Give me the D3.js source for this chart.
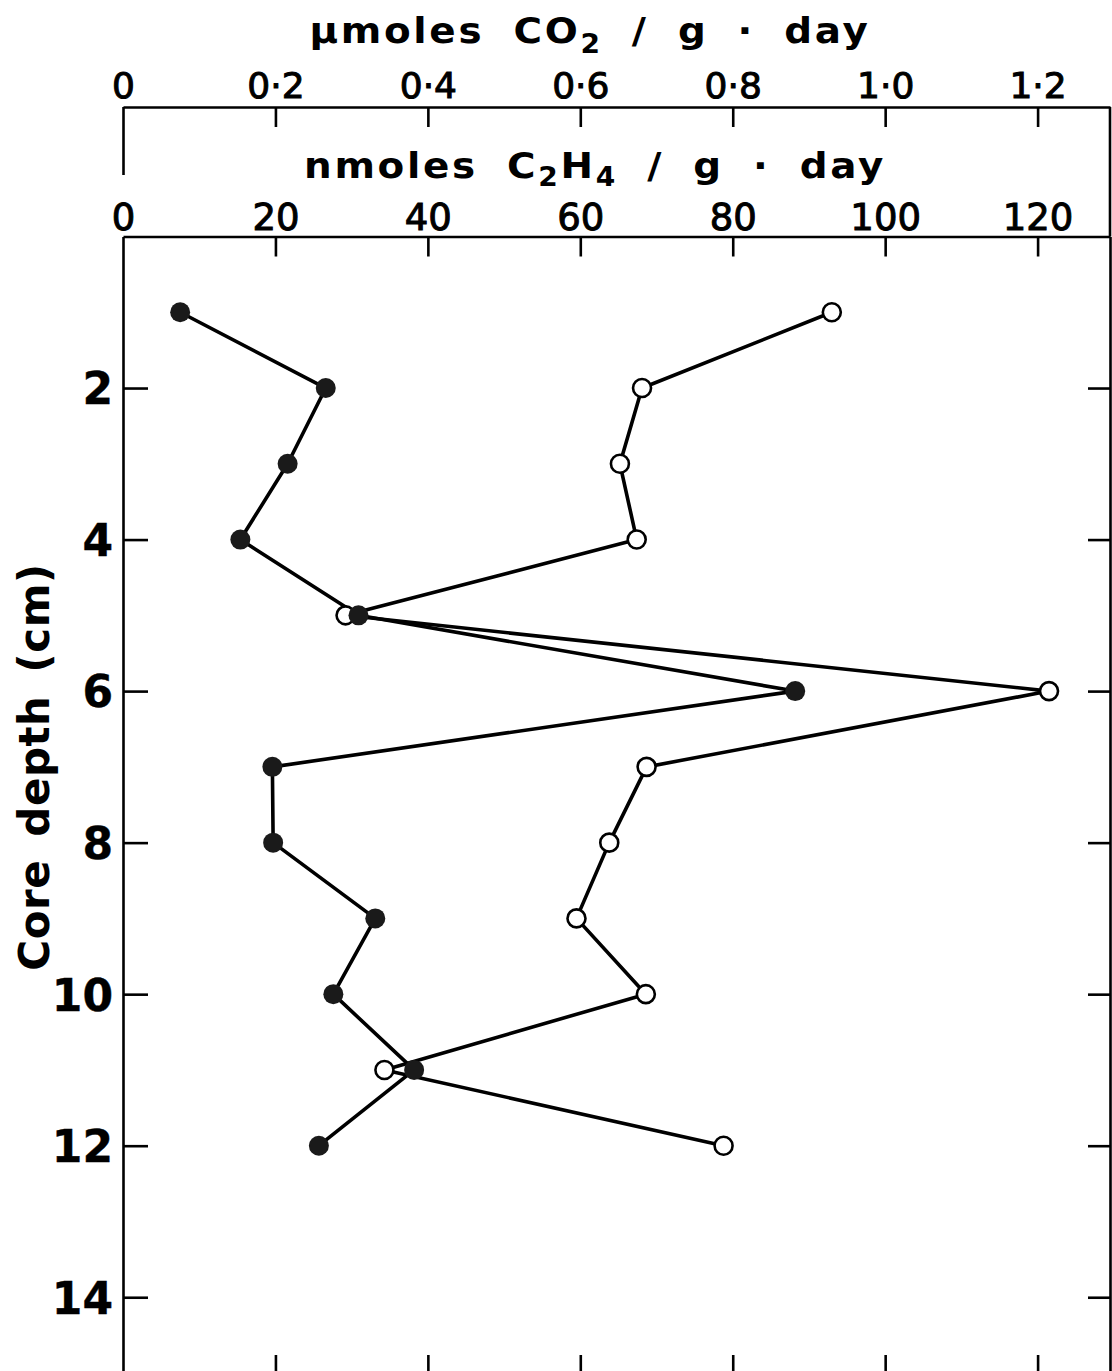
<!DOCTYPE html>
<html>
<head>
<meta charset="utf-8">
<script src="https://cdn.jsdelivr.net/npm/d3@7"></script>
<style>
  html, body { margin: 0; padding: 0; background: #fff; }
  svg { display: block; }
  text { font-family: "DejaVu Sans", sans-serif; fill: #000; }
</style>
</head>
<body>
<svg id="chart" width="1112" height="1371"></svg>
<script>
// Sample depth in the core (cm)
const depth = [1, 2, 3, 4, 5, 6, 7, 8, 9, 10, 11, 12];
// CO2 production, µmoles / g · day  (open circles)
const co2 = [0.930, 0.681, 0.652, 0.674, 0.292, 1.215, 0.687, 0.638, 0.595, 0.686, 0.343, 0.788];
// Ethylene production, nmoles C2H4 / g · day  (filled circles)
const c2h4 = [7.5, 26.6, 21.6, 15.4, 30.9, 88.2, 19.6, 19.7, 33.1, 27.6, 38.2, 25.7];

const co2Ticks = [0, 0.2, 0.4, 0.6, 0.8, 1.0, 1.2];
const c2h4Ticks = [0, 20, 40, 60, 80, 100, 120];
const depthTicks = [2, 4, 6, 8, 10, 12, 14];

const svg = d3.select("#chart");
svg.append("rect").attr("width", 1112).attr("height", 1371).attr("fill", "#fff");

const left = 123, right = 1110;
const co2AxisY = 107;

const xCO2 = d3.scaleLinear().domain([0, 1.295]).range([left, right]);
const xC2H4 = d3.scaleLinear().domain([0, 129.5]).range([left, right]);
const y = d3.scaleLinear().domain([0, 15]).range([236.5, 1373]);

const ink = "#000";
const fmtDot = d => d === 0 ? "0" : d3.format(".1f")(d).replace(".", "\u00B7");

function styleAxis(g, fontSize, weight) {
  g.selectAll("path.domain").attr("stroke", ink).attr("stroke-width", 2.6);
  g.selectAll(".tick line").attr("stroke", ink).attr("stroke-width", 2.6);
  g.selectAll(".tick text")
    .attr("font-size", fontSize)
    .attr("font-weight", weight)
    .attr("font-family", "DejaVu Sans, sans-serif")
    .attr("fill", ink)
    .attr("stroke", ink)
    .attr("stroke-width", 1.0);
}

// Upper scale: CO2
const gTop = svg.append("g")
  .attr("transform", `translate(0,${co2AxisY})`)
  .call(d3.axisTop(xCO2).tickValues(co2Ticks).tickFormat(fmtDot)
    .tickSizeInner(-20).tickSizeOuter(0).tickPadding(9));
styleAxis(gTop, 36, "normal");
gTop.selectAll(".tick").filter(d => d === 0).select("line").attr("y2", 68);

// Second scale: C2H4, sitting on the top of the plot frame
const gMid = svg.append("g")
  .attr("transform", `translate(0,${y(0)})`)
  .call(d3.axisTop(xC2H4).tickValues(c2h4Ticks)
    .tickSizeInner(-20).tickSizeOuter(0).tickPadding(7));
styleAxis(gMid, 37, "normal");
gMid.selectAll(".tick").filter(d => d === 0).select("line").remove();

// Depth axis on the left
const gLeft = svg.append("g")
  .attr("transform", `translate(${left},0)`)
  .call(d3.axisLeft(y).tickValues(depthTicks)
    .tickSizeInner(-25).tickSizeOuter(0).tickPadding(10));
styleAxis(gLeft, 44, "bold");
gLeft.selectAll(".tick text").attr("stroke-width", 0.4).attr("dy", "0.36em");

// Right frame with inward ticks
const gRight = svg.append("g")
  .attr("transform", `translate(${right},0)`)
  .call(d3.axisRight(y).tickValues(depthTicks).tickFormat("")
    .tickSizeInner(-22).tickSizeOuter(0));
styleAxis(gRight, 10, "normal");
svg.append("line")
  .attr("x1", right).attr("x2", right)
  .attr("y1", co2AxisY).attr("y2", y(0))
  .attr("stroke", ink).attr("stroke-width", 2.6);

// Bottom frame with upward ticks
const gBottom = svg.append("g")
  .attr("transform", `translate(0,${y(15)})`)
  .call(d3.axisBottom(xC2H4).tickValues(c2h4Ticks.filter(d => d > 0)).tickFormat("")
    .tickSizeInner(-18).tickSizeOuter(0));
styleAxis(gBottom, 10, "normal");

// Axis titles
function scaleTitle(cx, baseline, sx, parts) {
  const t = svg.append("g")
    .attr("transform", `translate(${cx},${baseline}) scale(${sx},1)`)
    .append("text")
    .attr("text-anchor", "middle")
    .attr("font-size", 36)
    .attr("font-weight", "bold")
    .attr("letter-spacing", 2.5)
    .attr("word-spacing", 12);
  parts.forEach(p => {
    const s = t.append("tspan").text(p.t);
    if (p.sub) s.attr("font-size", 26).attr("dy", p.dy);
    if (p.back) s.attr("dy", p.back);
  });
  return t;
}

scaleTitle(590, 43, 1.08, [
  { t: "\u00B5moles CO" },
  { t: "2", sub: true, dy: 10 },
  { t: " / g \u00B7 day", back: -10 }
]);

scaleTitle(595, 178, 1.08, [
  { t: "nmoles C" },
  { t: "2", sub: true, dy: 8 },
  { t: "H", back: -8 },
  { t: "4", sub: true, dy: 8 },
  { t: " / g \u00B7 day", back: -8 }
]);

svg.append("text")
  .attr("transform", `translate(49,767) rotate(-90)`)
  .attr("text-anchor", "middle")
  .attr("font-size", 42)
  .attr("font-weight", "bold")
  .attr("letter-spacing", 0.5)
  .attr("word-spacing", 8)
  .text("Core depth (cm)");

// Profiles
const rows = depth.map((d, i) => ({ depth: d, co2: co2[i], c2h4: c2h4[i] }));

const lineCO2 = d3.line().x(d => xCO2(d.co2)).y(d => y(d.depth));
const lineC2H4 = d3.line().x(d => xC2H4(d.c2h4)).y(d => y(d.depth));

svg.append("path").datum(rows)
  .attr("d", lineC2H4).attr("fill", "none")
  .attr("stroke", ink).attr("stroke-width", 3.6).attr("stroke-linejoin", "round");
svg.append("path").datum(rows)
  .attr("d", lineCO2).attr("fill", "none")
  .attr("stroke", ink).attr("stroke-width", 3.6).attr("stroke-linejoin", "round");

svg.append("g").selectAll("circle").data(rows).join("circle")
  .attr("cx", d => xCO2(d.co2)).attr("cy", d => y(d.depth))
  .attr("r", 9).attr("fill", "#fff").attr("stroke", ink).attr("stroke-width", 2.6);

svg.append("g").selectAll("circle").data(rows).join("circle")
  .attr("cx", d => xC2H4(d.c2h4)).attr("cy", d => y(d.depth))
  .attr("r", 10).attr("fill", "#1a1a1a");
</script>
</body>
</html>
